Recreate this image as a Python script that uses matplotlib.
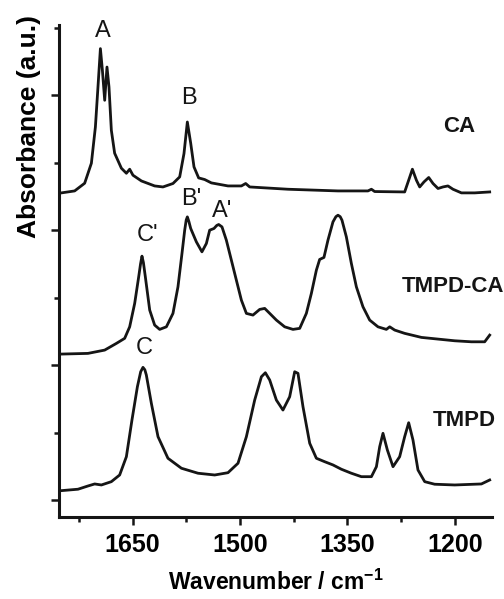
import numpy as np
import matplotlib
matplotlib.use("Agg")
import matplotlib.pyplot as plt
from matplotlib.ticker import MultipleLocator

plt.rcParams['font.family'] = ['Liberation Sans', 'DejaVu Sans']
plt.rcParams['mathtext.fontset'] = 'custom'
plt.rcParams['mathtext.rm'] = 'Liberation Sans:bold'
plt.rcParams['mathtext.bf'] = 'Liberation Sans:bold'

# spectra (wavenumber / cm-1, stacked absorbance in a.u.)
ca_wn = [1749.6, 1731.1, 1717.1, 1707.7, 1702.1, 1698.5, 1695.1, 1692.3, 1689.1,
         1685.9, 1683.1, 1679.8, 1675.2, 1665.8, 1658.8, 1654.2, 1649.6, 1637.8,
         1619.3, 1607.7, 1593.7, 1584.3, 1578.3, 1573.6, 1568.9, 1564.3, 1557.8,
         1549.4, 1540.0, 1516.8, 1498.1, 1492.1, 1486.5, 1433.0, 1363.1, 1321.2,
         1316.4, 1311.8, 1269.9, 1264.3, 1259.1, 1253.5, 1248.9, 1242.9, 1236.3,
         1230.3, 1223.3, 1216.4, 1209.4, 1202.4, 1190.6, 1172.0, 1151.1]
ca_abs = [4.553, 4.582, 4.696, 4.993, 5.530, 6.123, 6.692, 6.370, 5.926,
          6.419, 6.123, 5.481, 5.141, 4.919, 4.844, 4.904, 4.815, 4.730,
          4.656, 4.641, 4.692, 4.790, 5.136, 5.604, 5.289, 4.938, 4.775,
          4.751, 4.701, 4.656, 4.656, 4.692, 4.641, 4.607, 4.582, 4.582,
          4.607, 4.573, 4.567, 4.741, 4.904, 4.741, 4.641, 4.716, 4.781,
          4.692, 4.618, 4.641, 4.656, 4.607, 4.553, 4.553, 4.567]

tmpdca_wn = [1749.6, 1712.5, 1689.1, 1672.8, 1661.2, 1654.2, 1647.2, 1641.6, 1639.0,
             1637.0, 1635.0, 1632.3, 1626.2, 1619.3, 1612.3, 1602.9, 1593.7, 1586.7,
             1581.1, 1577.3, 1575.2, 1573.6, 1571.5, 1568.9, 1561.0, 1553.2, 1547.0,
             1542.4, 1536.4, 1532.5, 1529.8, 1525.2, 1519.1, 1512.1, 1505.1, 1498.1,
             1491.1, 1481.9, 1472.5, 1465.5, 1458.5, 1449.2, 1437.6, 1426.0, 1416.6,
             1407.3, 1400.3, 1393.3, 1388.7, 1382.7, 1377.1, 1370.1, 1366.0, 1363.1,
             1360.0, 1357.5, 1351.4, 1344.4, 1337.4, 1328.2, 1318.8, 1307.2, 1295.5,
             1290.8, 1283.9, 1269.9, 1246.5, 1223.3, 1200.0, 1176.7, 1158.1, 1151.1]
tmpdca_abs = [2.163, 2.173, 2.222, 2.321, 2.396, 2.567, 2.914, 3.308, 3.500,
              3.615, 3.520, 3.308, 2.815, 2.593, 2.529, 2.567, 2.766, 3.160,
              3.655, 4.000, 4.150, 4.197, 4.130, 4.025, 3.827, 3.679, 3.803,
              4.000, 4.025, 4.070, 4.084, 4.049, 3.852, 3.556, 3.259, 2.963,
              2.766, 2.741, 2.825, 2.840, 2.766, 2.667, 2.567, 2.529, 2.544,
              2.766, 3.062, 3.407, 3.566, 3.596, 3.852, 4.123, 4.200, 4.222,
              4.200, 4.148, 3.901, 3.507, 3.160, 2.864, 2.667, 2.567, 2.529,
              2.567, 2.519, 2.470, 2.410, 2.385, 2.360, 2.345, 2.345, 2.444]

tmpd_wn = [1749.6, 1726.4, 1712.5, 1703.1, 1693.7, 1679.8, 1668.2, 1658.8, 1651.0,
           1643.4, 1638.8, 1635.6, 1633.0, 1630.9, 1623.9, 1614.6, 1600.7, 1581.9,
           1558.7, 1535.4, 1516.8, 1502.8, 1491.1, 1479.5, 1470.1, 1464.6, 1458.5,
           1449.2, 1440.0, 1430.6, 1423.6, 1419.0, 1412.0, 1402.6, 1393.3, 1381.7,
           1370.1, 1358.3, 1344.4, 1330.4, 1316.4, 1309.4, 1304.8, 1300.2, 1294.1,
           1286.2, 1276.9, 1269.9, 1264.3, 1258.3, 1251.3, 1241.9, 1228.0, 1200.0,
           1162.7, 1151.1]
tmpd_abs = [0.138, 0.159, 0.207, 0.237, 0.222, 0.271, 0.370, 0.641, 1.185,
            1.679, 1.901, 1.966, 1.930, 1.852, 1.433, 0.938, 0.618, 0.470,
            0.396, 0.370, 0.404, 0.544, 0.938, 1.481, 1.827, 1.886, 1.778,
            1.481, 1.333, 1.530, 1.901, 1.877, 1.382, 0.840, 0.618, 0.567,
            0.519, 0.455, 0.396, 0.345, 0.345, 0.493, 0.790, 0.988, 0.741,
            0.493, 0.641, 0.938, 1.145, 0.889, 0.444, 0.271, 0.233, 0.222,
            0.237, 0.296]

# band letters and sample names
peak_labels = ["A", "B", "B'", "A'", "C'", "C"]
peak_wn = [1691.2, 1571.0, 1567.5, 1524.9, 1629.0, 1633.2]
peak_y = [6.96, 5.956, 4.467, 4.289, 3.926, 2.259]

sample_names = ["CA", "TMPD-CA", "TMPD"]
name_wn = [1193.7, 1202.8, 1186.0]
name_y = [5.54, 3.17, 1.185]

fig = plt.figure(figsize=(5.04, 5.99), dpi=100)
ax = fig.add_axes([0.117, 0.137, 0.859, 0.821])

lc = '#151515'
for wn, ab in [(ca_wn, ca_abs), (tmpdca_wn, tmpdca_abs), (tmpd_wn, tmpd_abs)]:
    ax.plot(wn, ab, color=lc, lw=2.0, solid_joinstyle='round')

for lab, w, y in zip(peak_labels, peak_wn, peak_y):
    ax.text(w, y, lab, fontsize=17, ha='center', va='center', color=lc)
for lab, w, y in zip(sample_names, name_wn, name_y):
    ax.text(w, y, lab, fontsize=16, fontweight='bold', ha='center', va='center',
            color=lc, clip_on=False)

ax.set_xlim(1753, 1148)
ax.set_ylim(-0.252, 7.04)

ax.xaxis.set_major_locator(MultipleLocator(150))
ax.xaxis.set_minor_locator(MultipleLocator(75))
ax.yaxis.set_major_locator(MultipleLocator(2))
ax.yaxis.set_minor_locator(MultipleLocator(1))
ax.set_yticklabels([])
ax.tick_params(which='both', direction='out', width=1.8, color=lc)
ax.tick_params(which='major', length=5.5)
ax.tick_params(which='minor', length=3.5)
ax.tick_params(axis='x', labelsize=18, pad=6)
for t in ax.get_xticklabels():
    t.set_fontweight('bold')

for s in ['top', 'right']:
    ax.spines[s].set_visible(False)
for s in ['left', 'bottom']:
    ax.spines[s].set_linewidth(2.2)
    ax.spines[s].set_color(lc)

ax.set_xlabel(r'Wavenumber / cm$^{\mathbf{-1}}$', fontsize=16.5, fontweight='bold', labelpad=9)
ax.set_ylabel('Absorbance (a.u.)', fontsize=19, fontweight='bold')
ax.yaxis.set_label_coords(-0.042, 0.793)

fig.savefig('out.png', dpi=100, facecolor='white')
